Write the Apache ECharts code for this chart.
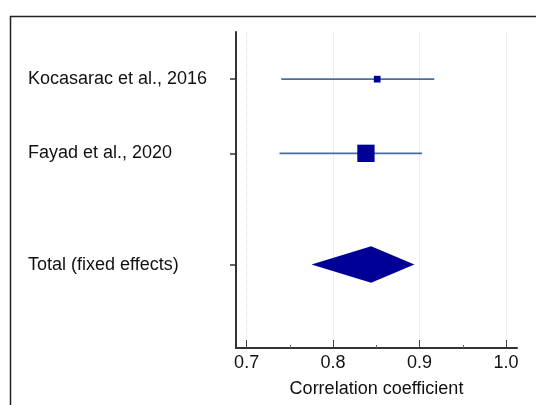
<!DOCTYPE html>
<html>
<head>
<meta charset="utf-8">
<script src="https://cdn.jsdelivr.net/npm/echarts@6/dist/echarts.min.js"></script>
<style>
  html, body { margin: 0; padding: 0; background: #fff; }
  #chart { width: 536px; height: 405px; }
</style>
</head>
<body>
<div id="chart"></div>
<script>
// Forest plot: study correlations with 95% CI and the pooled (fixed effects) estimate
const studies = ['Kocasarac et al., 2016', 'Fayad et al., 2020'];
const studyEstimate = [0.851, 0.838];
const studyLower = [0.740, 0.738];
const studyUpper = [0.917, 0.903];
const studyWeight = [13.0, 87.0];   // percent weight, drives marker area

const pooledLabel = 'Total (fixed effects)';
const pooledEstimate = 0.844;
const pooledLower = 0.775;
const pooledUpper = 0.894;

// row positions on the vertical axis
const rowPos = [1, 2, 3.5];
const rowLabels = [...studies, pooledLabel];

const xTickValues = [0.7, 0.8, 0.9, 1.0];
const xMinorValues = [0.75, 0.85, 0.95];

const markerScale = 1.855;
const navy = '#000096';
const ciColor = '#4a6e9e';
const fontFamily = 'Liberation Sans, Arial, sans-serif';
const fontSize = 18;

const ciData = studies.map((s, i) => [studyLower[i], studyUpper[i], rowPos[i]]);
const pointData = studies.map((s, i) => [studyEstimate[i], rowPos[i], studyWeight[i]]);
const diamondData = [[pooledLower, pooledEstimate, pooledUpper, rowPos[2]]];

const chart = echarts.init(document.getElementById('chart'), null, { renderer: 'canvas' });

chart.setOption({
  animation: false,
  backgroundColor: '#fff',
  textStyle: { fontFamily },
  graphic: [{
    type: 'rect',
    shape: { x: 10.5, y: 16.5, width: 640, height: 520 },
    style: { fill: 'none', stroke: '#222', lineWidth: 1.5 },
    silent: true
  }],
  grid: { left: 236, right: 19, top: 32, bottom: 57, containLabel: false },
  xAxis: [{
    type: 'value',
    min: 0.6877,
    max: 1.0127,
    axisLine: { show: true, lineStyle: { color: '#333', width: 2 } },
    axisTick: { show: true, inside: true, length: 8, customValues: xTickValues, lineStyle: { color: '#444', width: 1 } },
    axisLabel: {
      customValues: xTickValues,
      formatter: v => v.toFixed(1),
      fontSize, color: '#111', margin: 6, fontFamily
    },
    splitLine: { show: true, lineStyle: { color: '#dcdcdc', type: 'dotted', width: 1 } },
    name: 'Correlation coefficient',
    nameLocation: 'middle',
    nameGap: 32,
    nameTextStyle: { fontSize, color: '#111', fontFamily }
  }, {
    type: 'value',
    position: 'bottom',
    min: 0.6877,
    max: 1.0127,
    axisLine: { show: false },
    axisTick: { show: true, inside: true, length: 3, customValues: xMinorValues, lineStyle: { color: '#666', width: 1 } },
    axisLabel: { show: false },
    splitLine: { show: false }
  }],
  yAxis: {
    type: 'value',
    inverse: true,
    min: 0.364,
    max: 4.625,
    axisLine: { show: true, lineStyle: { color: '#333', width: 2 } },
    axisTick: { show: true, inside: false, length: 6, customValues: rowPos, lineStyle: { color: '#333', width: 1.5 } },
    axisLabel: {
      customValues: rowPos,
      formatter: v => rowLabels[rowPos.indexOf(v)] || '',
      align: 'left',
      margin: 208,
      fontSize,
      color: '#111',
      fontFamily
    },
    splitLine: { show: false }
  },
  series: [{
    type: 'custom',
    name: 'CI',
    data: ciData,
    encode: { x: [0, 1], y: 2 },
    renderItem: (params, api) => {
      const y = api.value(2);
      const a = api.coord([api.value(0), y]);
      const b = api.coord([api.value(1), y]);
      return {
        type: 'line',
        shape: { x1: a[0], y1: a[1], x2: b[0], y2: b[1] },
        style: { stroke: ciColor, lineWidth: 1.6 }
      };
    },
    z: 2
  }, {
    type: 'scatter',
    name: 'Estimate',
    data: pointData,
    symbol: 'rect',
    symbolSize: d => Math.sqrt(d[2]) * markerScale,
    itemStyle: { color: navy, opacity: 1 },
    z: 3
  }, {
    type: 'custom',
    name: 'Pooled',
    data: diamondData,
    encode: { x: [0, 1, 2], y: 3 },
    renderItem: (params, api) => {
      const y = api.value(3);
      const l = api.coord([api.value(0), y]);
      const m = api.coord([api.value(1), y]);
      const r = api.coord([api.value(2), y]);
      const h = 18.3;
      return {
        type: 'polygon',
        shape: { points: [[l[0], l[1]], [m[0], m[1] - h], [r[0], r[1]], [m[0], m[1] + h]] },
        style: { fill: navy }
      };
    },
    z: 3
  }]
});
</script>
</body>
</html>
